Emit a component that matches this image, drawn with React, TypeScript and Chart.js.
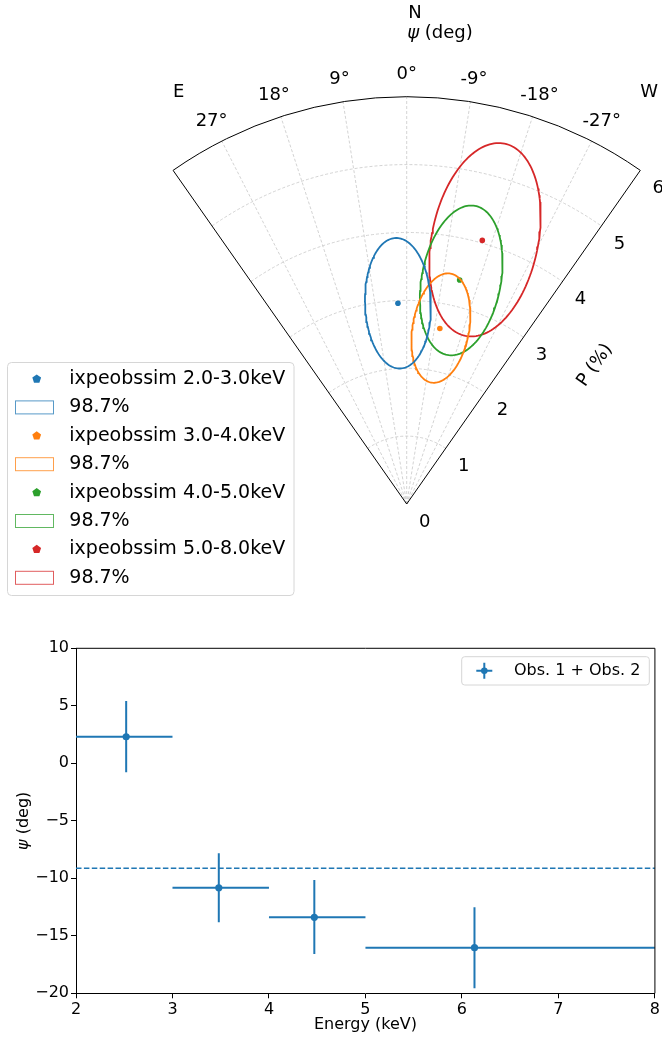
import React, { useEffect, useRef } from 'react';
import { Chart, registerables } from 'chart.js';
Chart.register(...registerables);

const FONT = "'DejaVu Sans', sans-serif";
const COLORS = ['#1f77b4', '#ff7f0e', '#2ca02c', '#d62728'];
const BLUE = '#1f77b4';

// ---------- top: polarization wedge ----------
const bandLabels = ['ixpeobssim 2.0-3.0keV', 'ixpeobssim 3.0-4.0keV', 'ixpeobssim 4.0-5.0keV', 'ixpeobssim 5.0-8.0keV'];
const contourLabel = '98.7%';
const polDegree = [2.96, 2.63, 3.39, 4.04];
const polAngle = [2.5, -10.7, -13.3, -16.0];
const contourCenterP = [2.96, 2.64, 3.39, 4.06];
const contourCenterPsi = [2.5, -11.0, -13.7, -16.5];
const contourSemiMajor = [0.962, 0.815, 1.117, 1.445];
const contourSemiMinor = [0.485, 0.417, 0.584, 0.784];
const contourTilt = [2, -10, -10.5, -11.5];
const angleTicks = [27, 18, 9, 0, -9, -18, -27];
const radiusTicks = [0, 1, 2, 3, 4, 5, 6];
const gridRadii = [1, 2, 3, 4, 5];
const P_MAX = 6;
const PSI_LIMIT = 35;

// ---------- bottom: angle vs energy ----------
const energy = [2.52, 3.48, 4.47, 6.13];
const energyLo = [2, 3, 4, 5];
const energyHi = [3, 4, 5, 8];
const psiValues = [2.31, -10.82, -13.39, -16.03];
const psiLow = [-0.78, -13.83, -16.58, -19.57];
const psiHigh = [5.42, -7.83, -10.15, -12.52];
const psiMean = -9.13;
const seriesLabel = 'Obs. 1 + Obs. 2';

const D2R = Math.PI / 180;
const toXY = (P: number, psi: number) => ({ x: -P * Math.sin(psi * D2R), y: P * Math.cos(psi * D2R) });

function contourPoints(i: number) {
  const c = toXY(contourCenterP[i], contourCenterPsi[i]);
  const t = contourTilt[i] * D2R;
  const maj = { x: -Math.sin(t), y: Math.cos(t) };
  const min = { x: Math.cos(t), y: Math.sin(t) };
  const pts: { x: number; y: number }[] = [];
  const n = 160;
  for (let k = 0; k <= n; k++) {
    const f = (2 * Math.PI * k) / n;
    const a = contourSemiMajor[i] * Math.cos(f);
    const b = contourSemiMinor[i] * Math.sin(f);
    pts.push({ x: c.x + a * maj.x + b * min.x, y: c.y + a * maj.y + b * min.y });
  }
  return pts;
}

const TOP_W = 662;
const TOP_H = 620;
const APEX_X = 406.7;
const APEX_Y = 504;
const PX_PER_P = 407.3 / P_MAX;

function roundRect(ctx: CanvasRenderingContext2D, x: number, y: number, w: number, h: number, r: number) {
  ctx.beginPath();
  ctx.moveTo(x + r, y);
  ctx.lineTo(x + w - r, y);
  ctx.arcTo(x + w, y, x + w, y + r, r);
  ctx.lineTo(x + w, y + h - r);
  ctx.arcTo(x + w, y + h, x + w - r, y + h, r);
  ctx.lineTo(x + r, y + h);
  ctx.arcTo(x, y + h, x, y + h - r, r);
  ctx.lineTo(x, y + r);
  ctx.arcTo(x, y, x + r, y, r);
  ctx.closePath();
}

function hexAlpha(hex: string, a: number) {
  const r = parseInt(hex.slice(1, 3), 16), g = parseInt(hex.slice(3, 5), 16), b = parseInt(hex.slice(5, 7), 16);
  return `rgba(${r},${g},${b},${a})`;
}

function PolarWedge() {
  const ref = useRef<HTMLCanvasElement>(null);
  useEffect(() => {
    const canvas = ref.current!;
    const datasets: any[] = [];
    for (let i = 0; i < bandLabels.length; i++) {
      datasets.push({
        label: bandLabels[i],
        data: [toXY(polDegree[i], polAngle[i])],
        pointRadius: 2.8,
        pointBackgroundColor: COLORS[i],
        pointBorderWidth: 0,
        showLine: false,
      });
      datasets.push({
        label: contourLabel,
        data: contourPoints(i),
        showLine: true,
        borderColor: COLORS[i],
        borderWidth: 1.8,
        pointRadius: 0,
        fill: false,
        tension: 0,
      });
    }

    const wedgePlugin = {
      id: 'wedge',
      beforeDatasetsDraw(chart: any) {
        const ctx: CanvasRenderingContext2D = chart.ctx;
        const xs = chart.scales.x, ys = chart.scales.y;
        const px = (P: number, psi: number) => {
          const p = toXY(P, psi);
          return [xs.getPixelForValue(p.x), ys.getPixelForValue(p.y)];
        };
        const [cx, cy] = px(0, 0);
        const rPix = (P: number) => xs.getPixelForValue(P) - xs.getPixelForValue(0);
        const a0 = (-90 - PSI_LIMIT) * D2R, a1 = (-90 + PSI_LIMIT) * D2R;
        ctx.save();
        // grid
        ctx.strokeStyle = '#c8c8c8';
        ctx.lineWidth = 0.8;
        ctx.setLineDash([3, 2]);
        for (const P of gridRadii) {
          ctx.beginPath();
          ctx.arc(cx, cy, rPix(P), a0, a1);
          ctx.stroke();
        }
        for (const t of angleTicks) {
          const [x, y] = px(P_MAX, t);
          ctx.beginPath();
          ctx.moveTo(cx, cy);
          ctx.lineTo(x, y);
          ctx.stroke();
        }
        // frame
        ctx.setLineDash([]);
        ctx.strokeStyle = '#000';
        ctx.lineWidth = 1;
        const [lx, ly] = px(P_MAX, PSI_LIMIT);
        const [rx, ry] = px(P_MAX, -PSI_LIMIT);
        ctx.beginPath();
        ctx.moveTo(lx, ly);
        ctx.lineTo(cx, cy);
        ctx.lineTo(rx, ry);
        ctx.arc(cx, cy, rPix(P_MAX), a1, a0, true);
        ctx.closePath();
        ctx.stroke();

        // labels
        ctx.fillStyle = '#000';
        ctx.font = `18px ${FONT}`;
        ctx.textAlign = 'center';
        ctx.textBaseline = 'middle';
        for (const t of angleTicks) {
          const [x, y] = px(P_MAX * 1.055, t);
          ctx.fillText(`${t}°`, x, y);
        }
        for (const P of radiusTicks) {
          const [x, y] = px(P, -PSI_LIMIT);
          ctx.fillText(String(P), x + 18, y + 18);
        }
        // P (%) title
        const [tx, ty] = px(3.5, -PSI_LIMIT);
        ctx.save();
        ctx.translate(tx + 52, ty + 56);
        ctx.rotate(-55 * D2R);
        ctx.fillText('P (%)', 0, 0);
        ctx.restore();
        // E / W
        ctx.textAlign = 'left';
        const eyPix = ys.getPixelForValue(6.07);
        ctx.fillText('E', lx, eyPix);
        ctx.fillText('W', rx, eyPix);
        // N and psi title
        ctx.fillText('N', cx + 1.5, 13.5);
        ctx.textBaseline = 'alphabetic';
        ctx.font = `italic 18px ${FONT}`;
        ctx.fillText('ψ', cx + 0.5, 38);
        const w = ctx.measureText('ψ').width;
        ctx.font = `18px ${FONT}`;
        ctx.fillText(' (deg)', cx + 0.5 + w, 38);
        ctx.restore();
      },
      afterDraw(chart: any) {
        const ctx: CanvasRenderingContext2D = chart.ctx;
        ctx.save();
        roundRect(ctx, 7.5, 362.5, 286.5, 233, 4);
        ctx.fillStyle = 'rgba(255,255,255,0.85)';
        ctx.fill();
        ctx.strokeStyle = '#d6d6d6';
        ctx.lineWidth = 1;
        ctx.stroke();
        ctx.font = `19px ${FONT}`;
        ctx.textBaseline = 'middle';
        ctx.textAlign = 'left';
        const step = 28.4;
        for (let i = 0; i < bandLabels.length; i++) {
          const ym = 379 + 2 * i * step;
          const yp = ym + step;
          ctx.beginPath();
          for (let k = 0; k < 5; k++) {
            const ang = -Math.PI / 2 + (k * 2 * Math.PI) / 5;
            const x = 36.7 + 4.6 * Math.cos(ang);
            const y = ym + 4.6 * Math.sin(ang);
            if (k === 0) ctx.moveTo(x, y); else ctx.lineTo(x, y);
          }
          ctx.closePath();
          ctx.fillStyle = COLORS[i];
          ctx.fill();
          ctx.strokeStyle = hexAlpha(COLORS[i], 0.75);
          ctx.lineWidth = 1;
          ctx.strokeRect(15.5, yp - 6.5, 38, 13);
          ctx.fillStyle = '#000';
          ctx.fillText(bandLabels[i], 69.3, ym);
          ctx.fillText(contourLabel, 69.3, yp);
        }
        ctx.restore();
      },
    };

    const chart = new Chart(canvas, {
      type: 'scatter',
      data: { datasets },
      options: {
        animation: false,
        responsive: false,
        devicePixelRatio: 1,
        layout: { padding: 0, autoPadding: false },
        plugins: { legend: { display: false }, tooltip: { enabled: false } },
        scales: {
          x: { type: 'linear', display: false, min: -APEX_X / PX_PER_P, max: (TOP_W - APEX_X) / PX_PER_P },
          y: { type: 'linear', display: false, min: -(TOP_H - APEX_Y) / PX_PER_P, max: APEX_Y / PX_PER_P },
        },
      } as any,
      plugins: [wedgePlugin as any],
    });
    return () => chart.destroy();
  }, []);
  return <canvas ref={ref} width={TOP_W} height={TOP_H} style={{ display: 'block', width: TOP_W, height: TOP_H }} />;
}

const BOT_W = 662;
const BOT_H = 418;

function PsiVsEnergy() {
  const ref = useRef<HTMLCanvasElement>(null);
  useEffect(() => {
    const canvas = ref.current!;
    const datasets: any[] = [];
    datasets.push({
      data: [{ x: 2, y: psiMean }, { x: 8, y: psiMean }],
      showLine: true,
      borderColor: BLUE,
      borderWidth: 1.5,
      borderDash: [5.5, 2.4],
      pointRadius: 0,
    });
    energy.forEach((e, i) => {
      datasets.push({
        data: [{ x: energyLo[i], y: psiValues[i] }, { x: energyHi[i], y: psiValues[i] }],
        showLine: true, borderColor: BLUE, borderWidth: 2, pointRadius: 0,
      });
      datasets.push({
        data: [{ x: e, y: psiLow[i] }, { x: e, y: psiHigh[i] }],
        showLine: true, borderColor: BLUE, borderWidth: 2, pointRadius: 0,
      });
    });
    datasets.push({
      label: seriesLabel,
      data: energy.map((e, i) => ({ x: e, y: psiValues[i] })),
      showLine: false,
      pointRadius: 3.6,
      pointBackgroundColor: BLUE,
      pointBorderWidth: 0,
    });

    const framePlugin = {
      id: 'frame',
      afterDraw(chart: any) {
        const ctx: CanvasRenderingContext2D = chart.ctx;
        const { left, top, right, bottom } = chart.chartArea;
        ctx.save();
        ctx.strokeStyle = '#000';
        ctx.lineWidth = 1;
        ctx.beginPath();
        ctx.moveTo(left, top);
        ctx.lineTo(right, top);
        ctx.lineTo(right, bottom);
        ctx.stroke();
        // y-axis title with italic psi
        ctx.save();
        ctx.translate(24, (top + bottom) / 2);
        ctx.rotate(-Math.PI / 2);
        ctx.fillStyle = '#000';
        ctx.textBaseline = 'middle';
        ctx.textAlign = 'left';
        ctx.font = `italic 16px ${FONT}`;
        const w1 = ctx.measureText('ψ').width;
        ctx.font = `16px ${FONT}`;
        const w2 = ctx.measureText(' (deg)').width;
        const x0 = -(w1 + w2) / 2;
        ctx.font = `italic 16px ${FONT}`;
        ctx.fillText('ψ', x0, 0);
        ctx.font = `16px ${FONT}`;
        ctx.fillText(' (deg)', x0 + w1, 0);
        ctx.restore();
        // legend
        roundRect(ctx, 461.7, 36.7, 187.6, 28.3, 3);
        ctx.fillStyle = 'rgba(255,255,255,0.85)';
        ctx.fill();
        ctx.strokeStyle = '#d6d6d6';
        ctx.lineWidth = 1;
        ctx.stroke();
        const mx = 484.3, my = 50.7;
        ctx.strokeStyle = BLUE;
        ctx.lineWidth = 2;
        ctx.beginPath();
        ctx.moveTo(mx - 8, my); ctx.lineTo(mx + 8, my);
        ctx.moveTo(mx, my - 8); ctx.lineTo(mx, my + 8);
        ctx.stroke();
        ctx.beginPath();
        ctx.arc(mx, my, 3.3, 0, Math.PI * 2);
        ctx.fillStyle = BLUE;
        ctx.fill();
        ctx.fillStyle = '#000';
        ctx.font = `16px ${FONT}`;
        ctx.textAlign = 'left';
        ctx.textBaseline = 'middle';
        ctx.fillText(seriesLabel, 514, my);
        ctx.restore();
      },
    };

    const tickFont = { family: FONT, size: 16 };
    const chart = new Chart(canvas, {
      type: 'scatter',
      data: { datasets },
      options: {
        animation: false,
        responsive: false,
        devicePixelRatio: 1,
        layout: { padding: { left: 0, top: 28.3, right: 4.7, bottom: 0 }, autoPadding: false },
        plugins: { legend: { display: false }, tooltip: { enabled: false } },
        scales: {
          x: {
            type: 'linear', min: 2, max: 8,
            ticks: { stepSize: 1, font: tickFont, color: '#000', padding: 2, maxRotation: 0 },
            grid: { drawOnChartArea: false, tickLength: 5, tickColor: '#000', tickWidth: 1 },
            border: { color: '#000', width: 1 },
            title: { display: true, text: 'Energy (keV)', font: tickFont, color: '#000', padding: { top: 0, bottom: 3.4 } },
            afterFit: (s: any) => { s.height = 44.7; },
          },
          y: {
            type: 'linear', min: -20, max: 10,
            ticks: {
              stepSize: 5, font: tickFont, color: '#000', padding: 2,
              callback: (v: any) => (v < 0 ? '\u2212' + Math.abs(v) : String(v)),
            },
            grid: { drawOnChartArea: false, tickLength: 5, tickColor: '#000', tickWidth: 1 },
            border: { color: '#000', width: 1 },
            title: { display: false },
            afterFit: (s: any) => { s.width = 76; },
          },
        },
      } as any,
      plugins: [framePlugin as any],
    });
    return () => chart.destroy();
  }, []);
  return <canvas ref={ref} width={BOT_W} height={BOT_H} style={{ display: 'block', width: BOT_W, height: BOT_H }} />;
}

export default function App() {
  return (
    <div style={{ position: 'absolute', left: 0, top: 0, width: 662, height: 1038, background: '#fff' }}>
      <PolarWedge />
      <PsiVsEnergy />
    </div>
  );
}
